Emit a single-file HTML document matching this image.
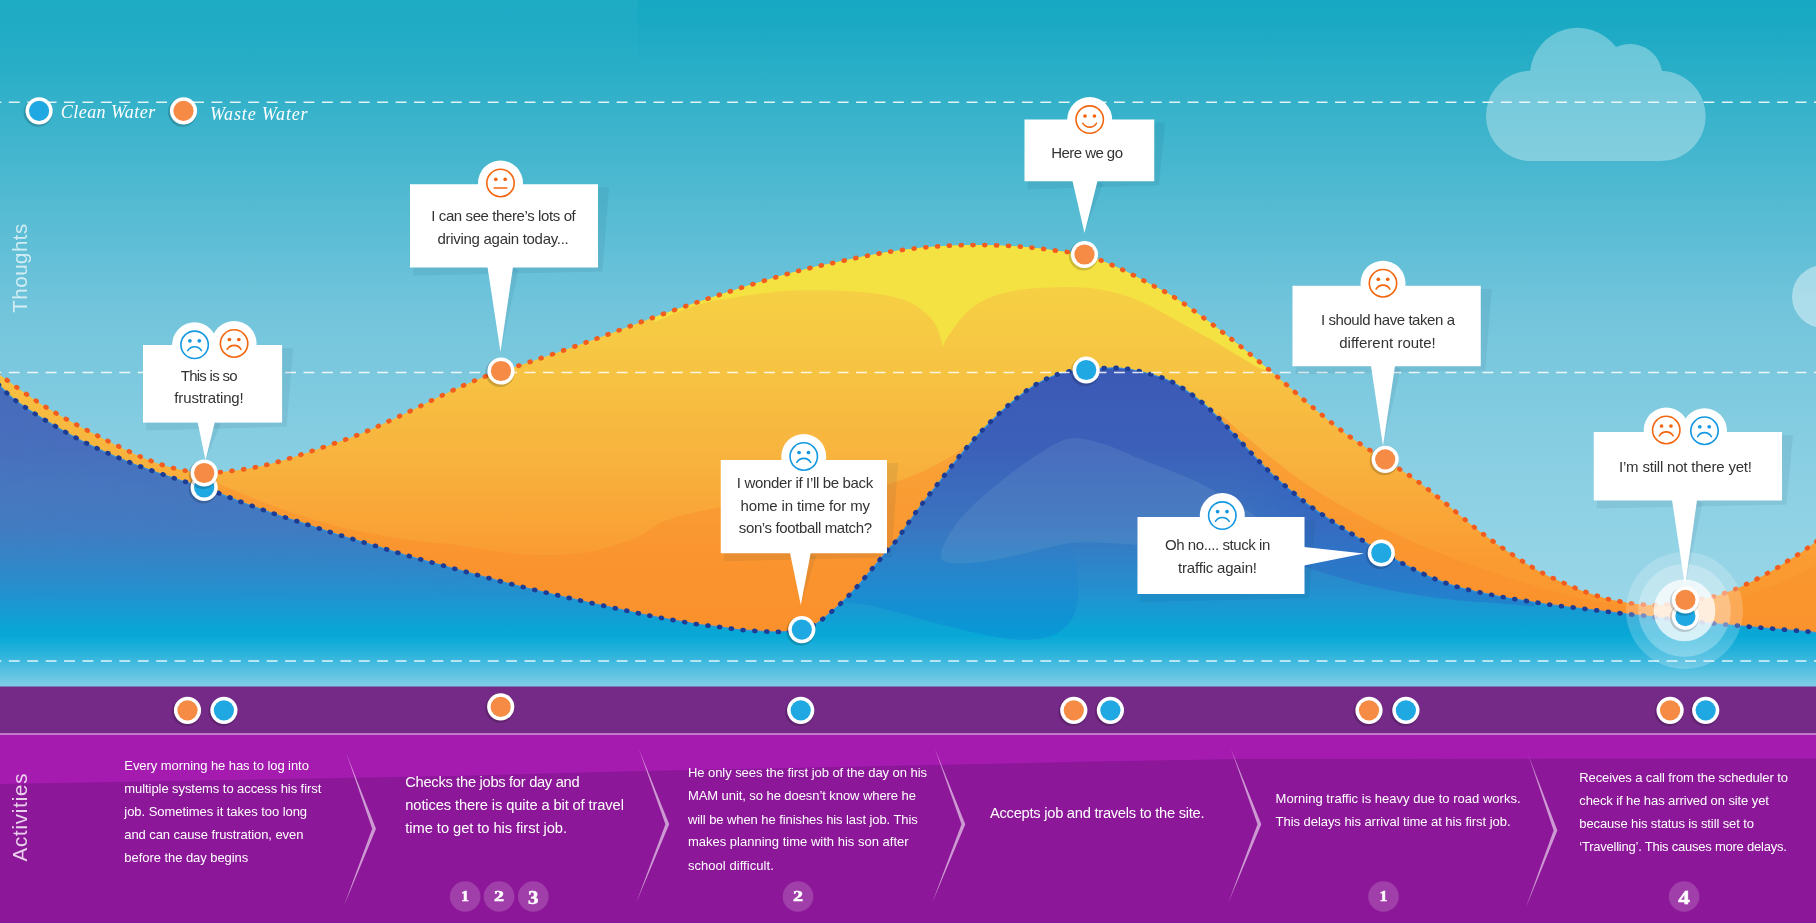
<!DOCTYPE html>
<html lang="en"><head><meta charset="utf-8"><title>Journey map</title>
<style>
html,body{margin:0;padding:0;background:#8d1797;}
body{width:1816px;height:923px;overflow:hidden;font-family:"Liberation Sans",sans-serif;}
svg{display:block;will-change:transform}
.bt{font-family:"Liberation Sans",sans-serif;font-size:15px;fill:#333;text-anchor:middle}
.at{font-family:"Liberation Sans",sans-serif;fill:#fff}
.lg{font-family:"Liberation Serif",serif;font-style:italic;font-size:18px;fill:#fff}
.num{font-family:"Liberation Serif",serif;font-weight:bold;fill:#fff;stroke:#fff;stroke-width:.5px;text-anchor:middle}
.side{font-family:"Liberation Sans",sans-serif;font-size:20.5px;fill:#fff;text-anchor:middle}
</style></head><body>
<svg width="1816" height="923" viewBox="0 0 1816 923">
<defs>
<linearGradient id="sky" x1="0" y1="0" x2="0" y2="686" gradientUnits="userSpaceOnUse">
 <stop offset="0" stop-color="#16a8c2"/><stop offset="0.03" stop-color="#19a9c3"/>
 <stop offset="0.146" stop-color="#34b1ca"/><stop offset="0.29" stop-color="#52bad2"/>
 <stop offset="0.46" stop-color="#73c5dc"/><stop offset="0.66" stop-color="#88cee2"/>
 <stop offset="0.88" stop-color="#99d6e8"/><stop offset="1" stop-color="#9dd8ea"/>
</linearGradient>
<linearGradient id="og" x1="0" y1="245" x2="0" y2="640" gradientUnits="userSpaceOnUse">
 <stop offset="0" stop-color="#f6d544"/><stop offset="0.25" stop-color="#f6c843"/>
 <stop offset="0.55" stop-color="#f8b23e"/><stop offset="0.8" stop-color="#fa9b31"/>
 <stop offset="1" stop-color="#fa952d"/>
</linearGradient>
<linearGradient id="bg" x1="0" y1="368" x2="0" y2="686" gradientUnits="userSpaceOnUse">
 <stop offset="0" stop-color="#3b59b6"/><stop offset="0.25" stop-color="#3c60b9"/>
 <stop offset="0.5" stop-color="#3a75c0"/><stop offset="0.7" stop-color="#2490cf"/>
 <stop offset="0.84" stop-color="#06a8d6"/><stop offset="0.9" stop-color="#2bb3dc"/>
 <stop offset="1" stop-color="#7fcde6"/>
</linearGradient>
<linearGradient id="lb" x1="0" y1="0" x2="850" y2="0" gradientUnits="userSpaceOnUse">
 <stop offset="0" stop-color="#6fa0c8" stop-opacity="0.24"/><stop offset="0.4" stop-color="#6fa0c8" stop-opacity="0.2"/><stop offset="1" stop-color="#6fa0c8" stop-opacity="0"/>
</linearGradient>
<linearGradient id="lbm" x1="0" y1="380" x2="0" y2="600" gradientUnits="userSpaceOnUse">
 <stop offset="0" stop-color="#fff"/><stop offset="0.5" stop-color="#fff"/><stop offset="1" stop-color="#000"/>
</linearGradient>
<mask id="lbmask" maskUnits="userSpaceOnUse" x="0" y="350" width="900" height="350"><rect x="0" y="350" width="900" height="350" fill="url(#lbm)"/></mask>
<linearGradient id="dk" x1="0" y1="540" x2="0" y2="610" gradientUnits="userSpaceOnUse">
 <stop offset="0" stop-color="#0a78d4" stop-opacity="0"/><stop offset="1" stop-color="#0a78d4" stop-opacity="0.3"/>
</linearGradient>
<linearGradient id="dk2" x1="1235" y1="0" x2="1310" y2="0" gradientUnits="userSpaceOnUse">
 <stop offset="0" stop-color="#2a55c4" stop-opacity="0"/><stop offset="1" stop-color="#2a55c4" stop-opacity="0.3"/>
</linearGradient>
<linearGradient id="tl" x1="0" y1="0" x2="0" y2="63" gradientUnits="userSpaceOnUse">
 <stop offset="0" stop-color="#fff" stop-opacity="0.035"/><stop offset="1" stop-color="#fff" stop-opacity="0.005"/>
</linearGradient>
<clipPath id="oc"><path d="M-12.00,366.00 C-10.00,367.50 -6.83,370.00 0.00,375.00 C6.83,380.00 19.17,389.33 29.00,396.00 C38.83,402.67 47.17,408.17 59.00,415.00 C70.83,421.83 86.08,429.92 100.00,437.00 C113.92,444.08 130.00,452.25 142.50,457.50 C155.00,462.75 164.75,466.00 175.00,468.50 C185.25,471.00 194.00,472.17 204.00,472.50 C214.00,472.83 224.00,471.92 235.00,470.50 C246.00,469.08 256.67,467.42 270.00,464.00 C283.33,460.58 300.00,455.00 315.00,450.00 C330.00,445.00 345.50,439.83 360.00,434.00 C374.50,428.17 387.83,421.67 402.00,415.00 C416.17,408.33 432.42,399.92 445.00,394.00 C457.58,388.08 468.17,383.33 477.50,379.50 C486.83,375.67 493.50,373.50 501.00,371.00 C508.50,368.50 507.67,369.50 522.50,364.50 C537.33,359.50 567.50,349.08 590.00,341.00 C612.50,332.92 635.00,324.00 657.50,316.00 C680.00,308.00 702.50,300.25 725.00,293.00 C747.50,285.75 773.75,277.67 792.50,272.50 C811.25,267.33 822.08,265.33 837.50,262.00 C852.92,258.67 869.17,255.04 885.00,252.50 C900.83,249.96 916.67,248.00 932.50,246.75 C948.33,245.50 964.58,244.96 980.00,245.00 C995.42,245.04 1011.25,245.92 1025.00,247.00 C1038.75,248.08 1052.58,250.25 1062.50,251.50 C1072.42,252.75 1075.33,251.83 1084.50,254.50 C1093.67,257.17 1106.58,262.58 1117.50,267.50 C1128.42,272.42 1139.58,278.42 1150.00,284.00 C1160.42,289.58 1167.08,292.33 1180.00,301.00 C1192.92,309.67 1211.83,323.83 1227.50,336.00 C1243.17,348.17 1260.25,362.50 1274.00,374.00 C1287.75,385.50 1297.75,394.83 1310.00,405.00 C1322.25,415.17 1335.08,425.92 1347.50,435.00 C1359.92,444.08 1373.58,452.33 1384.50,459.50 C1395.42,466.67 1403.00,470.83 1413.00,478.00 C1423.00,485.17 1433.42,493.62 1444.50,502.50 C1455.58,511.38 1468.25,522.67 1479.50,531.30 C1490.75,539.93 1501.58,547.40 1512.00,554.30 C1522.42,561.20 1531.17,566.96 1542.00,572.70 C1552.83,578.44 1568.17,585.03 1577.00,588.75 C1585.83,592.47 1590.17,593.36 1595.00,595.00 C1599.83,596.64 1602.25,597.60 1606.00,598.60 C1609.75,599.60 1613.67,600.25 1617.50,601.00 C1621.33,601.75 1625.08,602.53 1629.00,603.10 C1632.92,603.67 1637.00,604.08 1641.00,604.40 C1645.00,604.72 1649.00,604.95 1653.00,605.00 C1657.00,605.05 1659.00,605.28 1665.00,604.70 C1671.00,604.12 1681.17,602.80 1689.00,601.50 C1696.83,600.20 1706.33,598.20 1712.00,596.90 C1717.67,595.60 1719.33,594.90 1723.00,593.70 C1726.67,592.50 1730.40,591.15 1734.00,589.70 C1737.60,588.25 1741.05,586.65 1744.60,585.00 C1748.15,583.35 1751.78,581.60 1755.30,579.80 C1758.82,578.00 1762.25,576.08 1765.70,574.20 C1769.15,572.32 1772.62,570.52 1776.00,568.50 C1779.38,566.48 1782.67,564.22 1786.00,562.10 C1789.33,559.98 1792.67,557.97 1796.00,555.80 C1799.33,553.63 1802.73,551.38 1806.00,549.10 C1809.27,546.82 1811.60,545.12 1815.60,542.10 C1819.60,539.08 1827.60,532.85 1830.00,531.00 L1830,700 L-12,700 Z"/></clipPath>
<clipPath id="bc"><path d="M-10.00,376.00 C-8.33,377.67 -4.17,382.00 0.00,386.00 C4.17,390.00 7.50,394.33 15.00,400.00 C22.50,405.67 33.33,412.92 45.00,420.00 C56.67,427.08 70.83,435.42 85.00,442.50 C99.17,449.58 115.00,456.50 130.00,462.50 C145.00,468.50 162.67,474.33 175.00,478.50 C187.33,482.67 193.17,483.67 204.00,487.50 C214.83,491.33 228.17,497.08 240.00,501.50 C251.83,505.92 263.67,510.12 275.00,514.00 C286.33,517.88 297.83,521.47 308.00,524.80 C318.17,528.13 326.60,531.03 336.00,534.00 C345.40,536.97 355.07,539.77 364.40,542.60 C373.73,545.43 382.57,548.18 392.00,551.00 C401.43,553.82 411.33,556.75 421.00,559.50 C430.67,562.25 440.43,564.87 450.00,567.50 C459.57,570.13 468.90,572.72 478.40,575.30 C487.90,577.88 497.40,580.52 507.00,583.00 C516.60,585.48 526.33,587.87 536.00,590.20 C545.67,592.53 555.43,594.78 565.00,597.00 C574.57,599.22 582.92,601.17 593.40,603.50 C603.88,605.83 618.35,608.93 627.90,611.00 C637.45,613.07 642.93,614.35 650.70,615.90 C658.47,617.45 666.67,618.90 674.50,620.30 C682.33,621.70 689.93,623.15 697.70,624.30 C705.47,625.45 713.30,626.22 721.10,627.20 C728.90,628.18 736.63,629.47 744.50,630.20 C752.37,630.93 762.05,631.33 768.30,631.60 C774.55,631.87 776.48,632.13 782.00,631.80 C787.52,631.47 795.85,630.85 801.40,629.60 C806.95,628.35 811.50,626.25 815.30,624.30 C819.10,622.35 821.13,620.32 824.20,617.90 C827.27,615.48 830.67,612.47 833.70,609.80 C836.73,607.13 839.52,604.68 842.40,601.90 C845.28,599.12 848.25,595.98 851.00,593.10 C853.75,590.22 856.33,587.50 858.90,584.60 C861.47,581.70 863.92,578.67 866.40,575.70 C868.88,572.73 871.25,569.85 873.80,566.80 C876.35,563.75 879.13,560.48 881.70,557.40 C884.27,554.32 886.72,551.20 889.20,548.30 C891.68,545.40 891.88,546.38 896.60,540.00 C901.32,533.62 910.27,519.83 917.50,510.00 C924.73,500.17 932.50,490.58 940.00,481.00 C947.50,471.42 955.00,461.42 962.50,452.50 C970.00,443.58 977.08,435.62 985.00,427.50 C992.92,419.38 1001.67,410.83 1010.00,403.75 C1018.33,396.67 1026.67,390.04 1035.00,385.00 C1043.33,379.96 1051.46,376.08 1060.00,373.50 C1068.54,370.92 1076.25,370.42 1086.25,369.50 C1096.25,368.58 1109.38,367.25 1120.00,368.00 C1130.62,368.75 1140.83,371.42 1150.00,374.00 C1159.17,376.58 1166.00,378.50 1175.00,383.50 C1184.00,388.50 1194.83,396.25 1204.00,404.00 C1213.17,411.75 1221.78,421.47 1230.00,430.00 C1238.22,438.53 1246.65,448.18 1253.30,455.20 C1259.95,462.22 1264.20,466.68 1269.90,472.10 C1275.60,477.52 1281.50,482.57 1287.50,487.70 C1293.50,492.83 1299.62,498.10 1305.90,502.90 C1312.18,507.70 1318.73,512.07 1325.20,516.50 C1331.67,520.93 1338.08,525.27 1344.70,529.50 C1351.32,533.73 1358.75,537.97 1364.90,541.90 C1371.05,545.83 1376.55,550.15 1381.60,553.10 C1386.65,556.05 1389.38,556.67 1395.20,559.60 C1401.02,562.53 1409.27,567.23 1416.50,570.70 C1423.73,574.17 1431.23,577.55 1438.60,580.40 C1445.97,583.25 1453.20,585.67 1460.70,587.80 C1468.20,589.93 1475.92,591.53 1483.60,593.20 C1491.28,594.87 1499.07,596.42 1506.80,597.80 C1514.53,599.18 1522.23,600.27 1530.00,601.50 C1537.77,602.73 1545.52,604.12 1553.40,605.20 C1561.28,606.28 1569.40,607.05 1577.30,608.00 C1585.20,608.95 1593.02,609.95 1600.80,610.90 C1608.58,611.85 1616.23,612.83 1624.00,613.70 C1631.77,614.57 1641.52,615.43 1647.40,616.10 C1653.28,616.77 1653.37,617.00 1659.30,617.70 C1665.23,618.40 1675.15,619.43 1683.00,620.30 C1690.85,621.17 1698.57,622.12 1706.40,622.90 C1714.23,623.68 1722.15,624.30 1730.00,625.00 C1737.85,625.70 1745.67,626.42 1753.50,627.10 C1761.33,627.78 1769.25,628.47 1777.00,629.10 C1784.75,629.73 1793.50,630.33 1800.00,630.90 C1806.50,631.47 1811.00,631.98 1816.00,632.50 C1821.00,633.02 1827.67,633.75 1830.00,634.00 L1830,690 L-10,690 Z"/></clipPath>
</defs>
<rect x="0" y="0" width="1816" height="690" fill="url(#sky)"/>

<rect x="0" y="0" width="638" height="63" fill="url(#tl)"/>
<path d="M1532.3,161.1 A45.2,45.2 0 0 1 1530.2,70.7 A47.7,47.7 0 0 1 1616,47.1 A32.4,32.4 0 0 1 1662,71.1 A45,45 0 0 1 1659.3,161.1 Z" fill="#fff" fill-opacity="0.33"/>
<rect x="1792" y="265" width="80" height="63" rx="31.5" fill="#fff" fill-opacity="0.42"/>

<path d="M-12.00,366.00 C-10.00,367.50 -6.83,370.00 0.00,375.00 C6.83,380.00 19.17,389.33 29.00,396.00 C38.83,402.67 47.17,408.17 59.00,415.00 C70.83,421.83 86.08,429.92 100.00,437.00 C113.92,444.08 130.00,452.25 142.50,457.50 C155.00,462.75 164.75,466.00 175.00,468.50 C185.25,471.00 194.00,472.17 204.00,472.50 C214.00,472.83 224.00,471.92 235.00,470.50 C246.00,469.08 256.67,467.42 270.00,464.00 C283.33,460.58 300.00,455.00 315.00,450.00 C330.00,445.00 345.50,439.83 360.00,434.00 C374.50,428.17 387.83,421.67 402.00,415.00 C416.17,408.33 432.42,399.92 445.00,394.00 C457.58,388.08 468.17,383.33 477.50,379.50 C486.83,375.67 493.50,373.50 501.00,371.00 C508.50,368.50 507.67,369.50 522.50,364.50 C537.33,359.50 567.50,349.08 590.00,341.00 C612.50,332.92 635.00,324.00 657.50,316.00 C680.00,308.00 702.50,300.25 725.00,293.00 C747.50,285.75 773.75,277.67 792.50,272.50 C811.25,267.33 822.08,265.33 837.50,262.00 C852.92,258.67 869.17,255.04 885.00,252.50 C900.83,249.96 916.67,248.00 932.50,246.75 C948.33,245.50 964.58,244.96 980.00,245.00 C995.42,245.04 1011.25,245.92 1025.00,247.00 C1038.75,248.08 1052.58,250.25 1062.50,251.50 C1072.42,252.75 1075.33,251.83 1084.50,254.50 C1093.67,257.17 1106.58,262.58 1117.50,267.50 C1128.42,272.42 1139.58,278.42 1150.00,284.00 C1160.42,289.58 1167.08,292.33 1180.00,301.00 C1192.92,309.67 1211.83,323.83 1227.50,336.00 C1243.17,348.17 1260.25,362.50 1274.00,374.00 C1287.75,385.50 1297.75,394.83 1310.00,405.00 C1322.25,415.17 1335.08,425.92 1347.50,435.00 C1359.92,444.08 1373.58,452.33 1384.50,459.50 C1395.42,466.67 1403.00,470.83 1413.00,478.00 C1423.00,485.17 1433.42,493.62 1444.50,502.50 C1455.58,511.38 1468.25,522.67 1479.50,531.30 C1490.75,539.93 1501.58,547.40 1512.00,554.30 C1522.42,561.20 1531.17,566.96 1542.00,572.70 C1552.83,578.44 1568.17,585.03 1577.00,588.75 C1585.83,592.47 1590.17,593.36 1595.00,595.00 C1599.83,596.64 1602.25,597.60 1606.00,598.60 C1609.75,599.60 1613.67,600.25 1617.50,601.00 C1621.33,601.75 1625.08,602.53 1629.00,603.10 C1632.92,603.67 1637.00,604.08 1641.00,604.40 C1645.00,604.72 1649.00,604.95 1653.00,605.00 C1657.00,605.05 1659.00,605.28 1665.00,604.70 C1671.00,604.12 1681.17,602.80 1689.00,601.50 C1696.83,600.20 1706.33,598.20 1712.00,596.90 C1717.67,595.60 1719.33,594.90 1723.00,593.70 C1726.67,592.50 1730.40,591.15 1734.00,589.70 C1737.60,588.25 1741.05,586.65 1744.60,585.00 C1748.15,583.35 1751.78,581.60 1755.30,579.80 C1758.82,578.00 1762.25,576.08 1765.70,574.20 C1769.15,572.32 1772.62,570.52 1776.00,568.50 C1779.38,566.48 1782.67,564.22 1786.00,562.10 C1789.33,559.98 1792.67,557.97 1796.00,555.80 C1799.33,553.63 1802.73,551.38 1806.00,549.10 C1809.27,546.82 1811.60,545.12 1815.60,542.10 C1819.60,539.08 1827.60,532.85 1830.00,531.00 L1830,700 L-12,700 Z" fill="url(#og)"/>
<g clip-path="url(#oc)"><path d="M655,322 C690,306 710,301 723,299.3 C760,293 785,290.5 804.5,290.3 C840,290 865,291.5 886,295.2 C905,299 913,303 918.6,307.4 C930,316 935,322 937,327.8 C940,336 942,342 943,347.4 C945,340 948,336 951.2,331.9 C957,323 962,317 967.5,311.5 C980,300 994,295 1008.3,291.9 C1030,288 1050,287 1069.4,287 C1092,287 1112,291 1130.5,297.2 C1146,303 1158,310 1171.3,317.6 C1186,326 1199,333 1212,340 C1227,349 1240,357 1252.8,364.5 C1260,369 1266,371 1272,369 L1300,200 L640,200 Z" fill="#f4e142"/>
<path d="M190,470 C240,495 290,513 325,523 C380,538 430,543 451,544 C490,550 515,555 535,555 C560,556 580,554 598,550 C615,546 628,541 640,536 C650,530 655,526 660,523 C675,517 690,513 702,511 C720,506 800,500 886,485 C920,475 945,462 975,440 C990,430 1000,420 1010,405 L1010,700 L190,700 Z" fill="#fb8b2a" fill-opacity="0.42"/>
<path d="M1218,412 C1240,432 1270,458 1300,480 C1320,494 1340,505 1362,517 C1420,549 1500,577 1560,593 C1600,603 1620,606 1645,607 L1645,700 L1215,700 Z" fill="#fb8e2c" fill-opacity="0.5"/>
<path d="M1700,606 C1740,600 1780,585 1816,565 L1816,700 L1700,700 Z" fill="#fb8e2c" fill-opacity="0.3"/>
</g>
<path d="M-10.00,376.00 C-8.33,377.67 -4.17,382.00 0.00,386.00 C4.17,390.00 7.50,394.33 15.00,400.00 C22.50,405.67 33.33,412.92 45.00,420.00 C56.67,427.08 70.83,435.42 85.00,442.50 C99.17,449.58 115.00,456.50 130.00,462.50 C145.00,468.50 162.67,474.33 175.00,478.50 C187.33,482.67 193.17,483.67 204.00,487.50 C214.83,491.33 228.17,497.08 240.00,501.50 C251.83,505.92 263.67,510.12 275.00,514.00 C286.33,517.88 297.83,521.47 308.00,524.80 C318.17,528.13 326.60,531.03 336.00,534.00 C345.40,536.97 355.07,539.77 364.40,542.60 C373.73,545.43 382.57,548.18 392.00,551.00 C401.43,553.82 411.33,556.75 421.00,559.50 C430.67,562.25 440.43,564.87 450.00,567.50 C459.57,570.13 468.90,572.72 478.40,575.30 C487.90,577.88 497.40,580.52 507.00,583.00 C516.60,585.48 526.33,587.87 536.00,590.20 C545.67,592.53 555.43,594.78 565.00,597.00 C574.57,599.22 582.92,601.17 593.40,603.50 C603.88,605.83 618.35,608.93 627.90,611.00 C637.45,613.07 642.93,614.35 650.70,615.90 C658.47,617.45 666.67,618.90 674.50,620.30 C682.33,621.70 689.93,623.15 697.70,624.30 C705.47,625.45 713.30,626.22 721.10,627.20 C728.90,628.18 736.63,629.47 744.50,630.20 C752.37,630.93 762.05,631.33 768.30,631.60 C774.55,631.87 776.48,632.13 782.00,631.80 C787.52,631.47 795.85,630.85 801.40,629.60 C806.95,628.35 811.50,626.25 815.30,624.30 C819.10,622.35 821.13,620.32 824.20,617.90 C827.27,615.48 830.67,612.47 833.70,609.80 C836.73,607.13 839.52,604.68 842.40,601.90 C845.28,599.12 848.25,595.98 851.00,593.10 C853.75,590.22 856.33,587.50 858.90,584.60 C861.47,581.70 863.92,578.67 866.40,575.70 C868.88,572.73 871.25,569.85 873.80,566.80 C876.35,563.75 879.13,560.48 881.70,557.40 C884.27,554.32 886.72,551.20 889.20,548.30 C891.68,545.40 891.88,546.38 896.60,540.00 C901.32,533.62 910.27,519.83 917.50,510.00 C924.73,500.17 932.50,490.58 940.00,481.00 C947.50,471.42 955.00,461.42 962.50,452.50 C970.00,443.58 977.08,435.62 985.00,427.50 C992.92,419.38 1001.67,410.83 1010.00,403.75 C1018.33,396.67 1026.67,390.04 1035.00,385.00 C1043.33,379.96 1051.46,376.08 1060.00,373.50 C1068.54,370.92 1076.25,370.42 1086.25,369.50 C1096.25,368.58 1109.38,367.25 1120.00,368.00 C1130.62,368.75 1140.83,371.42 1150.00,374.00 C1159.17,376.58 1166.00,378.50 1175.00,383.50 C1184.00,388.50 1194.83,396.25 1204.00,404.00 C1213.17,411.75 1221.78,421.47 1230.00,430.00 C1238.22,438.53 1246.65,448.18 1253.30,455.20 C1259.95,462.22 1264.20,466.68 1269.90,472.10 C1275.60,477.52 1281.50,482.57 1287.50,487.70 C1293.50,492.83 1299.62,498.10 1305.90,502.90 C1312.18,507.70 1318.73,512.07 1325.20,516.50 C1331.67,520.93 1338.08,525.27 1344.70,529.50 C1351.32,533.73 1358.75,537.97 1364.90,541.90 C1371.05,545.83 1376.55,550.15 1381.60,553.10 C1386.65,556.05 1389.38,556.67 1395.20,559.60 C1401.02,562.53 1409.27,567.23 1416.50,570.70 C1423.73,574.17 1431.23,577.55 1438.60,580.40 C1445.97,583.25 1453.20,585.67 1460.70,587.80 C1468.20,589.93 1475.92,591.53 1483.60,593.20 C1491.28,594.87 1499.07,596.42 1506.80,597.80 C1514.53,599.18 1522.23,600.27 1530.00,601.50 C1537.77,602.73 1545.52,604.12 1553.40,605.20 C1561.28,606.28 1569.40,607.05 1577.30,608.00 C1585.20,608.95 1593.02,609.95 1600.80,610.90 C1608.58,611.85 1616.23,612.83 1624.00,613.70 C1631.77,614.57 1641.52,615.43 1647.40,616.10 C1653.28,616.77 1653.37,617.00 1659.30,617.70 C1665.23,618.40 1675.15,619.43 1683.00,620.30 C1690.85,621.17 1698.57,622.12 1706.40,622.90 C1714.23,623.68 1722.15,624.30 1730.00,625.00 C1737.85,625.70 1745.67,626.42 1753.50,627.10 C1761.33,627.78 1769.25,628.47 1777.00,629.10 C1784.75,629.73 1793.50,630.33 1800.00,630.90 C1806.50,631.47 1811.00,631.98 1816.00,632.50 C1821.00,633.02 1827.67,633.75 1830.00,634.00 L1830,690 L-10,690 Z" fill="url(#bg)"/>
<g clip-path="url(#bc)">
<rect x="0" y="360" width="860" height="260" fill="url(#lb)" mask="url(#lbmask)"/>
<path d="M1068,543 C1078,560 1082,590 1075,612 C1068,632 1050,640 1024,640 C1000,640 960,630 914,617 C890,610 865,603 845,602 L820,602 L820,540 Z" fill="url(#dk)"/>
<path d="M1200,556 C1250,558 1290,562 1308.5,567.9 C1330,575 1345,579 1358.4,583 C1385,590 1405,593 1423.4,596 C1450,600 1470,601.5 1488.4,602.5 C1505,604 1520,605 1534,606.5 L1534,440 L1200,440 Z" fill="url(#dk2)"/>
<path d="M1074.5,437.7 C1095,440 1115,447 1134,456.5 C1158,466 1178,473 1197,481.7 C1230,498 1265,520 1300,550 L1300,590 L1137,590 L1137,545 C1110,543 1090,542 1068.2,543 C1045,548 1028,553 1008.5,557 C990,561 975,563 961.4,563.4 C948,564 938,562 941,552 C944,542 949,534 955,525.7 C966,511 978,500 992.8,488 C1008,475 1023,464 1040,453 C1052,445 1062,439 1074.5,437.7 Z" fill="#8fb4d6" fill-opacity="0.16"/>
</g>
<path d="M-12.00,366.00 C-10.00,367.50 -6.83,370.00 0.00,375.00 C6.83,380.00 19.17,389.33 29.00,396.00 C38.83,402.67 47.17,408.17 59.00,415.00 C70.83,421.83 86.08,429.92 100.00,437.00 C113.92,444.08 130.00,452.25 142.50,457.50 C155.00,462.75 164.75,466.00 175.00,468.50 C185.25,471.00 194.00,472.17 204.00,472.50 C214.00,472.83 224.00,471.92 235.00,470.50 C246.00,469.08 256.67,467.42 270.00,464.00 C283.33,460.58 300.00,455.00 315.00,450.00 C330.00,445.00 345.50,439.83 360.00,434.00 C374.50,428.17 387.83,421.67 402.00,415.00 C416.17,408.33 432.42,399.92 445.00,394.00 C457.58,388.08 468.17,383.33 477.50,379.50 C486.83,375.67 493.50,373.50 501.00,371.00 C508.50,368.50 507.67,369.50 522.50,364.50 C537.33,359.50 567.50,349.08 590.00,341.00 C612.50,332.92 635.00,324.00 657.50,316.00 C680.00,308.00 702.50,300.25 725.00,293.00 C747.50,285.75 773.75,277.67 792.50,272.50 C811.25,267.33 822.08,265.33 837.50,262.00 C852.92,258.67 869.17,255.04 885.00,252.50 C900.83,249.96 916.67,248.00 932.50,246.75 C948.33,245.50 964.58,244.96 980.00,245.00 C995.42,245.04 1011.25,245.92 1025.00,247.00 C1038.75,248.08 1052.58,250.25 1062.50,251.50 C1072.42,252.75 1075.33,251.83 1084.50,254.50 C1093.67,257.17 1106.58,262.58 1117.50,267.50 C1128.42,272.42 1139.58,278.42 1150.00,284.00 C1160.42,289.58 1167.08,292.33 1180.00,301.00 C1192.92,309.67 1211.83,323.83 1227.50,336.00 C1243.17,348.17 1260.25,362.50 1274.00,374.00 C1287.75,385.50 1297.75,394.83 1310.00,405.00 C1322.25,415.17 1335.08,425.92 1347.50,435.00 C1359.92,444.08 1373.58,452.33 1384.50,459.50 C1395.42,466.67 1403.00,470.83 1413.00,478.00 C1423.00,485.17 1433.42,493.62 1444.50,502.50 C1455.58,511.38 1468.25,522.67 1479.50,531.30 C1490.75,539.93 1501.58,547.40 1512.00,554.30 C1522.42,561.20 1531.17,566.96 1542.00,572.70 C1552.83,578.44 1568.17,585.03 1577.00,588.75 C1585.83,592.47 1590.17,593.36 1595.00,595.00 C1599.83,596.64 1602.25,597.60 1606.00,598.60 C1609.75,599.60 1613.67,600.25 1617.50,601.00 C1621.33,601.75 1625.08,602.53 1629.00,603.10 C1632.92,603.67 1637.00,604.08 1641.00,604.40 C1645.00,604.72 1649.00,604.95 1653.00,605.00 C1657.00,605.05 1659.00,605.28 1665.00,604.70 C1671.00,604.12 1681.17,602.80 1689.00,601.50 C1696.83,600.20 1706.33,598.20 1712.00,596.90 C1717.67,595.60 1719.33,594.90 1723.00,593.70 C1726.67,592.50 1730.40,591.15 1734.00,589.70 C1737.60,588.25 1741.05,586.65 1744.60,585.00 C1748.15,583.35 1751.78,581.60 1755.30,579.80 C1758.82,578.00 1762.25,576.08 1765.70,574.20 C1769.15,572.32 1772.62,570.52 1776.00,568.50 C1779.38,566.48 1782.67,564.22 1786.00,562.10 C1789.33,559.98 1792.67,557.97 1796.00,555.80 C1799.33,553.63 1802.73,551.38 1806.00,549.10 C1809.27,546.82 1811.60,545.12 1815.60,542.10 C1819.60,539.08 1827.60,532.85 1830.00,531.00" fill="none" stroke="#f25c1e" stroke-width="4.7" stroke-linecap="round" stroke-dasharray="0.9 10.9"/>
<path d="M-10.00,376.00 C-8.33,377.67 -4.17,382.00 0.00,386.00 C4.17,390.00 7.50,394.33 15.00,400.00 C22.50,405.67 33.33,412.92 45.00,420.00 C56.67,427.08 70.83,435.42 85.00,442.50 C99.17,449.58 115.00,456.50 130.00,462.50 C145.00,468.50 162.67,474.33 175.00,478.50 C187.33,482.67 193.17,483.67 204.00,487.50 C214.83,491.33 228.17,497.08 240.00,501.50 C251.83,505.92 263.67,510.12 275.00,514.00 C286.33,517.88 297.83,521.47 308.00,524.80 C318.17,528.13 326.60,531.03 336.00,534.00 C345.40,536.97 355.07,539.77 364.40,542.60 C373.73,545.43 382.57,548.18 392.00,551.00 C401.43,553.82 411.33,556.75 421.00,559.50 C430.67,562.25 440.43,564.87 450.00,567.50 C459.57,570.13 468.90,572.72 478.40,575.30 C487.90,577.88 497.40,580.52 507.00,583.00 C516.60,585.48 526.33,587.87 536.00,590.20 C545.67,592.53 555.43,594.78 565.00,597.00 C574.57,599.22 582.92,601.17 593.40,603.50 C603.88,605.83 618.35,608.93 627.90,611.00 C637.45,613.07 642.93,614.35 650.70,615.90 C658.47,617.45 666.67,618.90 674.50,620.30 C682.33,621.70 689.93,623.15 697.70,624.30 C705.47,625.45 713.30,626.22 721.10,627.20 C728.90,628.18 736.63,629.47 744.50,630.20 C752.37,630.93 762.05,631.33 768.30,631.60 C774.55,631.87 776.48,632.13 782.00,631.80 C787.52,631.47 795.85,630.85 801.40,629.60 C806.95,628.35 811.50,626.25 815.30,624.30 C819.10,622.35 821.13,620.32 824.20,617.90 C827.27,615.48 830.67,612.47 833.70,609.80 C836.73,607.13 839.52,604.68 842.40,601.90 C845.28,599.12 848.25,595.98 851.00,593.10 C853.75,590.22 856.33,587.50 858.90,584.60 C861.47,581.70 863.92,578.67 866.40,575.70 C868.88,572.73 871.25,569.85 873.80,566.80 C876.35,563.75 879.13,560.48 881.70,557.40 C884.27,554.32 886.72,551.20 889.20,548.30 C891.68,545.40 891.88,546.38 896.60,540.00 C901.32,533.62 910.27,519.83 917.50,510.00 C924.73,500.17 932.50,490.58 940.00,481.00 C947.50,471.42 955.00,461.42 962.50,452.50 C970.00,443.58 977.08,435.62 985.00,427.50 C992.92,419.38 1001.67,410.83 1010.00,403.75 C1018.33,396.67 1026.67,390.04 1035.00,385.00 C1043.33,379.96 1051.46,376.08 1060.00,373.50 C1068.54,370.92 1076.25,370.42 1086.25,369.50 C1096.25,368.58 1109.38,367.25 1120.00,368.00 C1130.62,368.75 1140.83,371.42 1150.00,374.00 C1159.17,376.58 1166.00,378.50 1175.00,383.50 C1184.00,388.50 1194.83,396.25 1204.00,404.00 C1213.17,411.75 1221.78,421.47 1230.00,430.00 C1238.22,438.53 1246.65,448.18 1253.30,455.20 C1259.95,462.22 1264.20,466.68 1269.90,472.10 C1275.60,477.52 1281.50,482.57 1287.50,487.70 C1293.50,492.83 1299.62,498.10 1305.90,502.90 C1312.18,507.70 1318.73,512.07 1325.20,516.50 C1331.67,520.93 1338.08,525.27 1344.70,529.50 C1351.32,533.73 1358.75,537.97 1364.90,541.90 C1371.05,545.83 1376.55,550.15 1381.60,553.10 C1386.65,556.05 1389.38,556.67 1395.20,559.60 C1401.02,562.53 1409.27,567.23 1416.50,570.70 C1423.73,574.17 1431.23,577.55 1438.60,580.40 C1445.97,583.25 1453.20,585.67 1460.70,587.80 C1468.20,589.93 1475.92,591.53 1483.60,593.20 C1491.28,594.87 1499.07,596.42 1506.80,597.80 C1514.53,599.18 1522.23,600.27 1530.00,601.50 C1537.77,602.73 1545.52,604.12 1553.40,605.20 C1561.28,606.28 1569.40,607.05 1577.30,608.00 C1585.20,608.95 1593.02,609.95 1600.80,610.90 C1608.58,611.85 1616.23,612.83 1624.00,613.70 C1631.77,614.57 1641.52,615.43 1647.40,616.10 C1653.28,616.77 1653.37,617.00 1659.30,617.70 C1665.23,618.40 1675.15,619.43 1683.00,620.30 C1690.85,621.17 1698.57,622.12 1706.40,622.90 C1714.23,623.68 1722.15,624.30 1730.00,625.00 C1737.85,625.70 1745.67,626.42 1753.50,627.10 C1761.33,627.78 1769.25,628.47 1777.00,629.10 C1784.75,629.73 1793.50,630.33 1800.00,630.90 C1806.50,631.47 1811.00,631.98 1816.00,632.50 C1821.00,633.02 1827.67,633.75 1830.00,634.00" fill="none" stroke="#2a93e6" stroke-width="1.2" stroke-opacity="0.85"/>
<path d="M-10.00,376.00 C-8.33,377.67 -4.17,382.00 0.00,386.00 C4.17,390.00 7.50,394.33 15.00,400.00 C22.50,405.67 33.33,412.92 45.00,420.00 C56.67,427.08 70.83,435.42 85.00,442.50 C99.17,449.58 115.00,456.50 130.00,462.50 C145.00,468.50 162.67,474.33 175.00,478.50 C187.33,482.67 193.17,483.67 204.00,487.50 C214.83,491.33 228.17,497.08 240.00,501.50 C251.83,505.92 263.67,510.12 275.00,514.00 C286.33,517.88 297.83,521.47 308.00,524.80 C318.17,528.13 326.60,531.03 336.00,534.00 C345.40,536.97 355.07,539.77 364.40,542.60 C373.73,545.43 382.57,548.18 392.00,551.00 C401.43,553.82 411.33,556.75 421.00,559.50 C430.67,562.25 440.43,564.87 450.00,567.50 C459.57,570.13 468.90,572.72 478.40,575.30 C487.90,577.88 497.40,580.52 507.00,583.00 C516.60,585.48 526.33,587.87 536.00,590.20 C545.67,592.53 555.43,594.78 565.00,597.00 C574.57,599.22 582.92,601.17 593.40,603.50 C603.88,605.83 618.35,608.93 627.90,611.00 C637.45,613.07 642.93,614.35 650.70,615.90 C658.47,617.45 666.67,618.90 674.50,620.30 C682.33,621.70 689.93,623.15 697.70,624.30 C705.47,625.45 713.30,626.22 721.10,627.20 C728.90,628.18 736.63,629.47 744.50,630.20 C752.37,630.93 762.05,631.33 768.30,631.60 C774.55,631.87 776.48,632.13 782.00,631.80 C787.52,631.47 795.85,630.85 801.40,629.60 C806.95,628.35 811.50,626.25 815.30,624.30 C819.10,622.35 821.13,620.32 824.20,617.90 C827.27,615.48 830.67,612.47 833.70,609.80 C836.73,607.13 839.52,604.68 842.40,601.90 C845.28,599.12 848.25,595.98 851.00,593.10 C853.75,590.22 856.33,587.50 858.90,584.60 C861.47,581.70 863.92,578.67 866.40,575.70 C868.88,572.73 871.25,569.85 873.80,566.80 C876.35,563.75 879.13,560.48 881.70,557.40 C884.27,554.32 886.72,551.20 889.20,548.30 C891.68,545.40 891.88,546.38 896.60,540.00 C901.32,533.62 910.27,519.83 917.50,510.00 C924.73,500.17 932.50,490.58 940.00,481.00 C947.50,471.42 955.00,461.42 962.50,452.50 C970.00,443.58 977.08,435.62 985.00,427.50 C992.92,419.38 1001.67,410.83 1010.00,403.75 C1018.33,396.67 1026.67,390.04 1035.00,385.00 C1043.33,379.96 1051.46,376.08 1060.00,373.50 C1068.54,370.92 1076.25,370.42 1086.25,369.50 C1096.25,368.58 1109.38,367.25 1120.00,368.00 C1130.62,368.75 1140.83,371.42 1150.00,374.00 C1159.17,376.58 1166.00,378.50 1175.00,383.50 C1184.00,388.50 1194.83,396.25 1204.00,404.00 C1213.17,411.75 1221.78,421.47 1230.00,430.00 C1238.22,438.53 1246.65,448.18 1253.30,455.20 C1259.95,462.22 1264.20,466.68 1269.90,472.10 C1275.60,477.52 1281.50,482.57 1287.50,487.70 C1293.50,492.83 1299.62,498.10 1305.90,502.90 C1312.18,507.70 1318.73,512.07 1325.20,516.50 C1331.67,520.93 1338.08,525.27 1344.70,529.50 C1351.32,533.73 1358.75,537.97 1364.90,541.90 C1371.05,545.83 1376.55,550.15 1381.60,553.10 C1386.65,556.05 1389.38,556.67 1395.20,559.60 C1401.02,562.53 1409.27,567.23 1416.50,570.70 C1423.73,574.17 1431.23,577.55 1438.60,580.40 C1445.97,583.25 1453.20,585.67 1460.70,587.80 C1468.20,589.93 1475.92,591.53 1483.60,593.20 C1491.28,594.87 1499.07,596.42 1506.80,597.80 C1514.53,599.18 1522.23,600.27 1530.00,601.50 C1537.77,602.73 1545.52,604.12 1553.40,605.20 C1561.28,606.28 1569.40,607.05 1577.30,608.00 C1585.20,608.95 1593.02,609.95 1600.80,610.90 C1608.58,611.85 1616.23,612.83 1624.00,613.70 C1631.77,614.57 1641.52,615.43 1647.40,616.10 C1653.28,616.77 1653.37,617.00 1659.30,617.70 C1665.23,618.40 1675.15,619.43 1683.00,620.30 C1690.85,621.17 1698.57,622.12 1706.40,622.90 C1714.23,623.68 1722.15,624.30 1730.00,625.00 C1737.85,625.70 1745.67,626.42 1753.50,627.10 C1761.33,627.78 1769.25,628.47 1777.00,629.10 C1784.75,629.73 1793.50,630.33 1800.00,630.90 C1806.50,631.47 1811.00,631.98 1816.00,632.50 C1821.00,633.02 1827.67,633.75 1830.00,634.00" fill="none" stroke="#1c3c96" stroke-width="4.7" stroke-linecap="round" stroke-dasharray="0.9 10.9"/>
<line x1="-9.62" x2="1820" y1="102.3" y2="102.3" stroke="#fff" stroke-opacity="0.85" stroke-width="1.5" stroke-dasharray="10.9 7.52"/>
<line x1="-9.62" x2="1820" y1="372.6" y2="372.6" stroke="#fff" stroke-opacity="0.85" stroke-width="1.5" stroke-dasharray="10.9 7.52"/>
<line x1="-9.62" x2="1820" y1="661.0" y2="661.0" stroke="#fff" stroke-opacity="0.85" stroke-width="1.5" stroke-dasharray="10.9 7.52"/>
<g fill="#fff"><circle cx="1684.5" cy="610.4" r="58.5" fill-opacity="0.2"/><circle cx="1684.5" cy="610.4" r="46.3" fill-opacity="0.27"/><circle cx="1684.5" cy="610.4" r="30.9" fill-opacity="0.72"/></g>
<circle cx="203.2" cy="488.9" r="14.5" fill="#000" fill-opacity="0.17"/><circle cx="204.2" cy="487.5" r="13.6" fill="#fff"/><circle cx="204.2" cy="487.5" r="10.1" fill="#1fa8e2"/>
<circle cx="203.2" cy="474.4" r="14.5" fill="#000" fill-opacity="0.17"/><circle cx="204.2" cy="473.0" r="13.6" fill="#fff"/><circle cx="204.2" cy="473.0" r="10.1" fill="#f58b44"/>
<circle cx="500.0" cy="372.4" r="14.5" fill="#000" fill-opacity="0.17"/><circle cx="501.0" cy="371.0" r="13.6" fill="#fff"/><circle cx="501.0" cy="371.0" r="10.1" fill="#f58b44"/>
<circle cx="800.8" cy="631.0" r="14.5" fill="#000" fill-opacity="0.17"/><circle cx="801.8" cy="629.6" r="13.6" fill="#fff"/><circle cx="801.8" cy="629.6" r="10.1" fill="#1fa8e2"/>
<circle cx="1083.5" cy="255.9" r="14.5" fill="#000" fill-opacity="0.17"/><circle cx="1084.5" cy="254.5" r="13.6" fill="#fff"/><circle cx="1084.5" cy="254.5" r="10.1" fill="#f58b44"/>
<circle cx="1085.2" cy="371.4" r="14.5" fill="#000" fill-opacity="0.17"/><circle cx="1086.2" cy="370.0" r="13.6" fill="#fff"/><circle cx="1086.2" cy="370.0" r="10.1" fill="#1fa8e2"/>
<circle cx="1384.2" cy="460.7" r="14.5" fill="#000" fill-opacity="0.17"/><circle cx="1385.2" cy="459.3" r="13.6" fill="#fff"/><circle cx="1385.2" cy="459.3" r="10.1" fill="#f58b44"/>
<circle cx="1380.3" cy="554.4" r="14.5" fill="#000" fill-opacity="0.17"/><circle cx="1381.3" cy="553.0" r="13.6" fill="#fff"/><circle cx="1381.3" cy="553.0" r="10.1" fill="#1fa8e2"/>
<circle cx="1684.4" cy="617.5" r="14.5" fill="#000" fill-opacity="0.17"/><circle cx="1685.4" cy="616.1" r="13.6" fill="#fff"/><circle cx="1685.4" cy="616.1" r="10.1" fill="#1fa8e2"/>
<circle cx="1684.4" cy="601.2" r="14.5" fill="#000" fill-opacity="0.17"/><circle cx="1685.4" cy="599.8" r="13.6" fill="#fff"/><circle cx="1685.4" cy="599.8" r="10.1" fill="#f58b44"/>
<circle cx="38.1" cy="112.2" r="14.5" fill="#000" fill-opacity="0.17"/><circle cx="39.1" cy="110.8" r="13.6" fill="#fff"/><circle cx="39.1" cy="110.8" r="10.1" fill="#1fa8e2"/>
<circle cx="182.5" cy="112.2" r="14.5" fill="#000" fill-opacity="0.17"/><circle cx="183.5" cy="110.8" r="13.6" fill="#fff"/><circle cx="183.5" cy="110.8" r="10.1" fill="#f58b44"/>
<text class="lg" x="60.7" y="118.2" textLength="94.6" lengthAdjust="spacing">Clean Water</text>
<text class="lg" x="209.9" y="119.6" textLength="97.7" lengthAdjust="spacing">Waste Water</text>
<text class="side" fill-opacity="0.7" transform="translate(27.3,268.2) rotate(-90)" textLength="89" lengthAdjust="spacing">Thoughts</text>
<g><polygon points="149.0,352.0 293.1,348.0 286.6,426.6 146.0,430.6" fill="#0a3c55" fill-opacity="0.075"/><polygon points="213.0,421.5 220.5,424.5 205.5,460.0" fill="#0a3c55" fill-opacity="0.075"/><rect x="143.00" y="345.00" width="139.10" height="77.60" fill="#fff"/><polygon points="197.5,421.5 215.0,421.5 205.5,460.0" fill="#fff"/><circle cx="194.60" cy="344.80" r="22.5" fill="#fff"/><circle cx="234.10" cy="343.50" r="22.5" fill="#fff"/><g fill="none" stroke="#1498e1" stroke-width="1.6" stroke-linecap="round"><circle cx="194.60" cy="344.80" r="13.7"/><path d="M187.70,350.60 A8.05,8.05 0 0 1 201.50,350.60"/></g><circle cx="189.90" cy="340.80" r="1.85" fill="#1498e1"/><circle cx="199.30" cy="340.80" r="1.85" fill="#1498e1"/><g fill="none" stroke="#f3660f" stroke-width="1.6" stroke-linecap="round"><circle cx="234.10" cy="343.50" r="13.7"/><path d="M227.20,349.30 A8.05,8.05 0 0 1 241.00,349.30"/></g><circle cx="229.40" cy="339.50" r="1.85" fill="#f3660f"/><circle cx="238.80" cy="339.50" r="1.85" fill="#f3660f"/><text class="bt" x="209.10" y="380.50" textLength="56.8" lengthAdjust="spacing">This is so</text><text class="bt" x="209.00" y="403.00" textLength="69.5" lengthAdjust="spacing">frustrating!</text></g>
<g><polygon points="416.0,191.2 609.0,187.2 602.5,271.5 413.0,275.5" fill="#0a3c55" fill-opacity="0.075"/><polygon points="511.0,267.0 518.5,270.0 500.5,352.0" fill="#0a3c55" fill-opacity="0.075"/><rect x="410.00" y="184.25" width="188.00" height="83.25" fill="#fff"/><polygon points="487.5,267.0 513.0,267.0 500.5,352.0" fill="#fff"/><circle cx="500.50" cy="183.00" r="22.5" fill="#fff"/><g fill="none" stroke="#f3660f" stroke-width="1.6" stroke-linecap="round"><circle cx="500.50" cy="183.00" r="13.7"/><path d="M494.20,188.00 L506.90,188.00"/></g><circle cx="495.80" cy="179.25" r="1.85" fill="#f3660f"/><circle cx="505.20" cy="179.25" r="1.85" fill="#f3660f"/><text class="bt" x="503.50" y="221.25" textLength="144.5" lengthAdjust="spacing">I can see there’s lots of</text><text class="bt" x="503.10" y="243.75" textLength="131.2" lengthAdjust="spacing">driving again today...</text></g>
<g><polygon points="1030.5,126.5 1165.2,122.5 1158.8,185.2 1027.5,189.2" fill="#0a3c55" fill-opacity="0.075"/><polygon points="1095.5,181.0 1103.0,184.0 1084.5,233.0" fill="#0a3c55" fill-opacity="0.075"/><rect x="1024.50" y="119.50" width="129.75" height="61.75" fill="#fff"/><polygon points="1072.5,181.0 1097.5,181.0 1084.5,233.0" fill="#fff"/><circle cx="1089.70" cy="119.60" r="22.5" fill="#fff"/><g fill="none" stroke="#f3660f" stroke-width="1.6" stroke-linecap="round"><circle cx="1089.70" cy="119.60" r="13.7"/><path d="M1082.90,123.30 A8,8 0 0 0 1096.50,123.30"/></g><circle cx="1085.00" cy="116.00" r="1.85" fill="#f3660f"/><circle cx="1094.40" cy="116.00" r="1.85" fill="#f3660f"/><text class="bt" x="1087.10" y="158.25" textLength="71.8" lengthAdjust="spacing">Here we go</text></g>
<g><polygon points="1298.5,292.8 1491.8,288.8 1485.2,370.2 1295.5,374.2" fill="#0a3c55" fill-opacity="0.075"/><polygon points="1393.0,366.0 1400.5,369.0 1383.0,446.0" fill="#0a3c55" fill-opacity="0.075"/><rect x="1292.50" y="285.75" width="188.25" height="80.50" fill="#fff"/><polygon points="1371.0,366.0 1395.0,366.0 1383.0,446.0" fill="#fff"/><circle cx="1383.00" cy="283.25" r="22.5" fill="#fff"/><g fill="none" stroke="#f3660f" stroke-width="1.6" stroke-linecap="round"><circle cx="1383.00" cy="283.25" r="13.7"/><path d="M1376.10,289.05 A8.05,8.05 0 0 1 1389.90,289.05"/></g><circle cx="1378.30" cy="279.25" r="1.85" fill="#f3660f"/><circle cx="1387.70" cy="279.25" r="1.85" fill="#f3660f"/><text class="bt" x="1388.00" y="325.00" textLength="134.0" lengthAdjust="spacing">I should have taken a</text><text class="bt" x="1387.50" y="347.50" textLength="96.5" lengthAdjust="spacing">different route!</text></g>
<g><polygon points="726.8,467.0 898.0,463.0 891.5,557.2 723.8,561.2" fill="#0a3c55" fill-opacity="0.075"/><polygon points="808.7,553.0 816.2,556.0 800.8,605.0" fill="#0a3c55" fill-opacity="0.075"/><rect x="720.75" y="460.00" width="166.25" height="93.25" fill="#fff"/><polygon points="790.0,553.0 810.7,553.0 800.8,605.0" fill="#fff"/><circle cx="803.75" cy="456.50" r="22.5" fill="#fff"/><g fill="none" stroke="#1498e1" stroke-width="1.6" stroke-linecap="round"><circle cx="803.75" cy="456.50" r="13.7"/><path d="M796.85,462.30 A8.05,8.05 0 0 1 810.65,462.30"/></g><circle cx="799.05" cy="452.50" r="1.85" fill="#1498e1"/><circle cx="808.45" cy="452.50" r="1.85" fill="#1498e1"/><text class="bt" x="805.00" y="487.50" textLength="136.5" lengthAdjust="spacing">I wonder if I’ll be back</text><text class="bt" x="805.25" y="510.50" textLength="129.5" lengthAdjust="spacing">home in time for my</text><text class="bt" x="805.40" y="533.25" textLength="133.2" lengthAdjust="spacing">son’s football match?</text></g>
<g><polygon points="1143.5,524.0 1315.5,520.0 1309.0,598.0 1140.5,602.0" fill="#0a3c55" fill-opacity="0.075"/><rect x="1137.50" y="517.00" width="167.00" height="77.00" fill="#fff"/><polygon points="1304.0,547.0 1304.0,565.5 1364.0,553.5" fill="#fff"/><circle cx="1222.30" cy="515.60" r="22.5" fill="#fff"/><g fill="none" stroke="#1498e1" stroke-width="1.6" stroke-linecap="round"><circle cx="1222.30" cy="515.60" r="13.7"/><path d="M1215.40,521.40 A8.05,8.05 0 0 1 1229.20,521.40"/></g><circle cx="1217.60" cy="511.60" r="1.85" fill="#1498e1"/><circle cx="1227.00" cy="511.60" r="1.85" fill="#1498e1"/><text class="bt" x="1217.60" y="549.70" textLength="105.4" lengthAdjust="spacing">Oh no.... stuck in</text><text class="bt" x="1217.50" y="572.70" textLength="79.0" lengthAdjust="spacing">traffic again!</text></g>
<g><polygon points="1599.8,439.0 1793.0,435.0 1786.5,504.5 1596.8,508.5" fill="#0a3c55" fill-opacity="0.075"/><polygon points="1695.0,500.0 1702.5,503.0 1685.0,586.0" fill="#0a3c55" fill-opacity="0.075"/><rect x="1593.75" y="432.00" width="188.25" height="68.50" fill="#fff"/><polygon points="1672.0,500.0 1697.0,500.0 1685.0,586.0" fill="#fff"/><circle cx="1666.25" cy="430.00" r="22.5" fill="#fff"/><circle cx="1704.50" cy="430.75" r="22.5" fill="#fff"/><g fill="none" stroke="#f3660f" stroke-width="1.6" stroke-linecap="round"><circle cx="1666.25" cy="430.00" r="13.7"/><path d="M1659.35,435.80 A8.05,8.05 0 0 1 1673.15,435.80"/></g><circle cx="1661.55" cy="426.00" r="1.85" fill="#f3660f"/><circle cx="1670.95" cy="426.00" r="1.85" fill="#f3660f"/><g fill="none" stroke="#1498e1" stroke-width="1.6" stroke-linecap="round"><circle cx="1704.50" cy="430.75" r="13.7"/><path d="M1697.60,436.55 A8.05,8.05 0 0 1 1711.40,436.55"/></g><circle cx="1699.80" cy="426.75" r="1.85" fill="#1498e1"/><circle cx="1709.20" cy="426.75" r="1.85" fill="#1498e1"/><text class="bt" x="1685.50" y="472.00" textLength="133.0" lengthAdjust="spacing">I’m still not there yet!</text></g>
<rect x="0" y="686.5" width="1816" height="48" fill="#752a87"/>
<rect x="0" y="733.3" width="1816" height="190" fill="#a51bb0"/>
<rect x="0" y="733.2" width="1816" height="1.7" fill="#c98ad2"/>
<polygon points="0,784 454,776 640,771 1094,761.6 1240,759 1816,758.5 1816,923 0,923" fill="#8d1799"/>

<circle cx="186.5" cy="711.7" r="14.5" fill="#000" fill-opacity="0.17"/><circle cx="187.5" cy="710.3" r="13.6" fill="#fff"/><circle cx="187.5" cy="710.3" r="10.1" fill="#f58b44"/>
<circle cx="222.9" cy="711.7" r="14.5" fill="#000" fill-opacity="0.17"/><circle cx="223.9" cy="710.3" r="13.6" fill="#fff"/><circle cx="223.9" cy="710.3" r="10.1" fill="#1fa8e2"/>
<circle cx="499.7" cy="708.2" r="14.5" fill="#000" fill-opacity="0.17"/><circle cx="500.7" cy="706.8" r="13.6" fill="#fff"/><circle cx="500.7" cy="706.8" r="10.1" fill="#f58b44"/>
<circle cx="799.7" cy="711.7" r="14.5" fill="#000" fill-opacity="0.17"/><circle cx="800.7" cy="710.3" r="13.6" fill="#fff"/><circle cx="800.7" cy="710.3" r="10.1" fill="#1fa8e2"/>
<circle cx="1072.8" cy="711.7" r="14.5" fill="#000" fill-opacity="0.17"/><circle cx="1073.8" cy="710.3" r="13.6" fill="#fff"/><circle cx="1073.8" cy="710.3" r="10.1" fill="#f58b44"/>
<circle cx="1109.4" cy="711.7" r="14.5" fill="#000" fill-opacity="0.17"/><circle cx="1110.4" cy="710.3" r="13.6" fill="#fff"/><circle cx="1110.4" cy="710.3" r="10.1" fill="#1fa8e2"/>
<circle cx="1368.0" cy="711.7" r="14.5" fill="#000" fill-opacity="0.17"/><circle cx="1369.0" cy="710.3" r="13.6" fill="#fff"/><circle cx="1369.0" cy="710.3" r="10.1" fill="#f58b44"/>
<circle cx="1404.9" cy="711.7" r="14.5" fill="#000" fill-opacity="0.17"/><circle cx="1405.9" cy="710.3" r="13.6" fill="#fff"/><circle cx="1405.9" cy="710.3" r="10.1" fill="#1fa8e2"/>
<circle cx="1669.1" cy="711.7" r="14.5" fill="#000" fill-opacity="0.17"/><circle cx="1670.1" cy="710.3" r="13.6" fill="#fff"/><circle cx="1670.1" cy="710.3" r="10.1" fill="#f58b44"/>
<circle cx="1704.7" cy="711.7" r="14.5" fill="#000" fill-opacity="0.17"/><circle cx="1705.7" cy="710.3" r="13.6" fill="#fff"/><circle cx="1705.7" cy="710.3" r="10.1" fill="#1fa8e2"/>
<polygon points="346.3,753.2 376.0,828.8 343.7,906.5 372.2,828.8" fill="#fff" fill-opacity="0.56"/>
<polygon points="638.9,749.0 669.2,824.3 636.3,902.5 665.4,824.3" fill="#fff" fill-opacity="0.56"/>
<polygon points="935.0,749.0 965.3,824.3 932.3,902.5 961.5,824.3" fill="#fff" fill-opacity="0.56"/>
<polygon points="1231.0,749.0 1261.3,824.3 1228.4,902.5 1257.5,824.3" fill="#fff" fill-opacity="0.56"/>
<polygon points="1528.4,755.0 1557.4,830.6 1525.8,907.8 1553.6,830.6" fill="#fff" fill-opacity="0.56"/>
<text class="side" fill-opacity="0.8" transform="translate(27.3,817.5) rotate(-90)" textLength="88" lengthAdjust="spacing">Activities</text>
<text class="at" font-size="13" x="124.3" y="769.5" textLength="184.6" lengthAdjust="spacing">Every morning he has to log into</text><text class="at" font-size="13" x="124.3" y="792.7" textLength="197.0" lengthAdjust="spacing">multiple systems to access his first</text><text class="at" font-size="13" x="124.3" y="815.6" textLength="182.8" lengthAdjust="spacing">job. Sometimes it takes too long</text><text class="at" font-size="13" x="124.3" y="838.5" textLength="179.1" lengthAdjust="spacing">and can cause frustration, even</text><text class="at" font-size="13" x="124.3" y="861.7" textLength="124.0" lengthAdjust="spacing">before the day begins</text>
<text class="at" font-size="14.7" x="405.3" y="786.7" textLength="174.3" lengthAdjust="spacing">Checks the jobs for day and</text><text class="at" font-size="14.7" x="405.3" y="809.6" textLength="218.6" lengthAdjust="spacing">notices there is quite a bit of travel</text><text class="at" font-size="14.7" x="405.3" y="832.8" textLength="161.7" lengthAdjust="spacing">time to get to his first job.</text>
<text class="at" font-size="13" x="687.9" y="777.4" textLength="239.1" lengthAdjust="spacing">He only sees the first job of the day on his</text><text class="at" font-size="13" x="687.9" y="800.4" textLength="228.0" lengthAdjust="spacing">MAM unit, so he doesn’t know where he</text><text class="at" font-size="13" x="687.9" y="823.5" textLength="229.9" lengthAdjust="spacing">will be when he finishes his last job. This</text><text class="at" font-size="13" x="687.9" y="846.4" textLength="220.7" lengthAdjust="spacing">makes planning time with his son after</text><text class="at" font-size="13" x="687.9" y="869.6" textLength="85.9" lengthAdjust="spacing">school difficult.</text>
<text class="at" font-size="14.7" x="990.0" y="817.5" textLength="214.6" lengthAdjust="spacing">Accepts job and travels to the site.</text>
<text class="at" font-size="13" x="1275.6" y="803.0" textLength="245.0" lengthAdjust="spacing">Morning traffic is heavy due to road works.</text><text class="at" font-size="13" x="1275.6" y="826.2" textLength="234.9" lengthAdjust="spacing">This delays his arrival time at his first job.</text>
<text class="at" font-size="13" x="1579.3" y="782.2" textLength="208.6" lengthAdjust="spacing">Receives a call from the scheduler to</text><text class="at" font-size="13" x="1579.3" y="805.1" textLength="189.6" lengthAdjust="spacing">check if he has arrived on site yet</text><text class="at" font-size="13" x="1579.3" y="828.0" textLength="174.6" lengthAdjust="spacing">because his status is still set to</text><text class="at" font-size="13" x="1579.3" y="851.2" textLength="207.5" lengthAdjust="spacing">‘Travelling’. This causes more delays.</text>
<circle cx="465.1" cy="896.5" r="15.3" fill="#fff" fill-opacity="0.17"/><text class="num" font-size="13.6" x="465.1" y="901.2" textLength="8" lengthAdjust="spacingAndGlyphs">1</text>
<circle cx="499.1" cy="896.5" r="15.3" fill="#fff" fill-opacity="0.17"/><text class="num" font-size="13.6" x="499.1" y="901.2" textLength="10" lengthAdjust="spacingAndGlyphs">2</text>
<circle cx="533.3" cy="896.5" r="15.3" fill="#fff" fill-opacity="0.17"/><text class="num" font-size="19.3" x="533.3" y="903.9" textLength="10.5" lengthAdjust="spacingAndGlyphs">3</text>
<circle cx="798.0" cy="896.5" r="15.3" fill="#fff" fill-opacity="0.17"/><text class="num" font-size="13.6" x="798.0" y="901.2" textLength="10" lengthAdjust="spacingAndGlyphs">2</text>
<circle cx="1383.5" cy="896.5" r="15.3" fill="#fff" fill-opacity="0.17"/><text class="num" font-size="13.6" x="1383.5" y="901.2" textLength="8" lengthAdjust="spacingAndGlyphs">1</text>
<circle cx="1684.1" cy="896.5" r="15.3" fill="#fff" fill-opacity="0.17"/><text class="num" font-size="19.3" x="1684.1" y="903.9" textLength="11.5" lengthAdjust="spacingAndGlyphs">4</text>
</svg></body></html>
